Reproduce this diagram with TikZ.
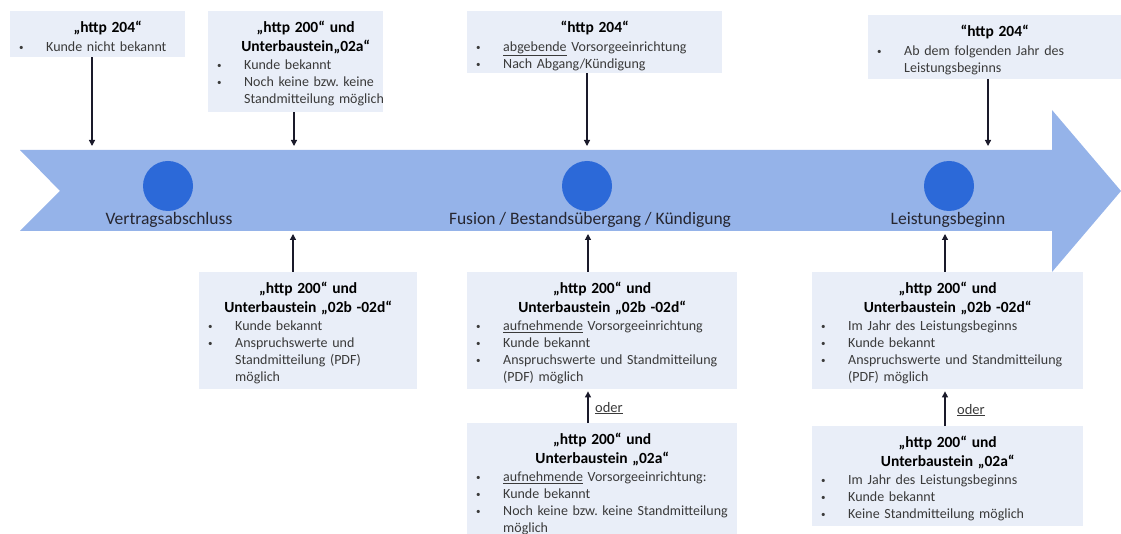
\documentclass[tikz,border=0pt]{standalone}
\usepackage{fontspec}
\setmainfont{Carlito}
\usetikzlibrary{arrows.meta,calc}
\definecolor{bandc}{HTML}{95B3E9}
\definecolor{dotc}{HTML}{2C69D8}
\definecolor{boxfill}{HTML}{E9EEF8}
\definecolor{bodytxt}{HTML}{3A3A3A}
\definecolor{arrowc}{HTML}{1A1A2A}
\definecolor{lbltxt}{HTML}{262630}
\newcommand{\ttl}[1]{{\centering\fontsize{15.5}{18.5}\selectfont\bfseries\color{black}#1\par}\vspace{1.5pt}}
\newcommand{\itm}[1]{{\hangindent=36pt\hangafter=1\noindent\makebox[36pt][l]{\hspace{9pt}\raisebox{1pt}{\fontsize{9}{9}\selectfont •}}#1\par}}
\tikzset{
  boxst/.style={fill=boxfill, draw=none, inner sep=0pt, anchor=north west},
  txt/.style={inner sep=0pt, text width=#1, align=left, anchor=north west,
    font=\fontsize{14}{17}\selectfont\frenchspacing, text=bodytxt},
  arr/.style={draw=arrowc, line width=1.2pt, -{Triangle[width=6pt,length=6pt]}},
  lbl/.style={inner sep=0pt, anchor=base, font=\fontsize{17.5}{20}\selectfont, text=lbltxt},
  odertxt/.style={inner sep=0pt, anchor=base west, font=\fontsize{14.5}{17}\selectfont, text=bodytxt},
  dotst/.style={circle, fill=dotc, inner sep=0pt, minimum size=50pt}
}
\begin{document}
\begin{tikzpicture}[x=1pt,y=-1pt]
\useasboundingbox (0,0) rectangle (1121,534);
% timeline band
\fill[bandc] (20,150) -- (1052,150) -- (1052,110) -- (1121,191) -- (1052,272) -- (1052,231) -- (20,231) -- (60,191) -- cycle;
\node[dotst] (d1) at (168,186) {};
\node[dotst] (d2) at (587,186) {};
\node[dotst] (d3) at (949,186) {};
\node[lbl] (l1) at (169,225) {Vertragsabschluss};
\node[lbl] (l2) at (590,225) {Fusion / Bestandsübergang / Kündigung};
\node[lbl] (l3) at (948,225) {Leistungsbeginn};
% arrow end points on band
\coordinate (a1) at (92,146);
\coordinate (a2) at (294,146);
\coordinate (a3) at (587,146);
\coordinate (a4) at (988,146);
\coordinate (c1) at (293,234);
\coordinate (c2) at (588,234);
\coordinate (c3) at (945,234);
% top boxes
\node[boxst, minimum width=175pt, minimum height=46pt] (b1) at (10,11) {};
\node[txt=195pt] (t1) at (10,21) {\ttl{\makebox[175pt][c]{„http 204“}}\itm{Kunde nicht bekannt}};
\node[boxst, minimum width=175pt, minimum height=101pt] (b2) at (208,11) {};
\node[txt=195pt] (t2) at (208,21) {\ttl{\makebox[175pt][c]{„http 200“ und}\\\makebox[175pt][c]{Unterbaustein„02a“}}\itm{Kunde bekannt}\itm{Noch keine bzw. keine\newline Standmitteilung möglich}};
\node[boxst, minimum width=255pt, minimum height=62pt] (b3) at (467,11) {};
\node[txt=255pt] (t3) at (467,21) {\ttl{“http 204“}\itm{\underline{abgebende} Vorsorgeeinrichtung}\itm{Nach Abgang/Kündigung}};
\node[boxst, minimum width=253pt, minimum height=64pt] (b4) at (868,15) {};
\node[txt=253pt] (t4) at (868,25) {\ttl{“http 204“}\itm{Ab dem folgenden Jahr des\newline Leistungsbeginns}};
% bottom boxes
\node[boxst, minimum width=218pt, minimum height=117pt] (b5) at (199,272) {};
\node[txt=218pt] (t5) at (199,282) {\ttl{„http 200“ und\\Unterbaustein „02b -02d“}\itm{Kunde bekannt}\itm{Anspruchswerte und\newline Standmitteilung (PDF)\newline möglich}};
\node[boxst, minimum width=270pt, minimum height=117pt] (b6) at (467,272) {};
\node[txt=270pt] (t6) at (467,282) {\ttl{„http 200“ und\\Unterbaustein „02b -02d“}\itm{\underline{aufnehmende} Vorsorgeeinrichtung}\itm{Kunde bekannt}\itm{Anspruchswerte und Standmitteilung\newline (PDF) möglich}};
\node[boxst, minimum width=270pt, minimum height=111pt] (b7) at (467,423) {};
\node[txt=270pt] (t7) at (467,433) {\ttl{„http 200“ und\\Unterbaustein „02a“}\itm{\underline{aufnehmende} Vorsorgeeinrichtung:}\itm{Kunde bekannt}\itm{Noch keine bzw. keine Standmitteilung\newline möglich}};
\node[boxst, minimum width=271pt, minimum height=117pt] (b8) at (812,272) {};
\node[txt=271pt] (t8) at (812,282) {\ttl{„http 200“ und\\Unterbaustein „02b -02d“}\itm{Im Jahr des Leistungsbeginns}\itm{Kunde bekannt}\itm{Anspruchswerte und Standmitteilung\newline (PDF) möglich}};
\node[boxst, minimum width=271pt, minimum height=100pt] (b9) at (812,426) {};
\node[txt=271pt] (t9) at (812,436) {\ttl{„http 200“ und\\Unterbaustein „02a“}\itm{Im Jahr des Leistungsbeginns}\itm{Kunde bekannt}\itm{Keine Standmitteilung möglich}};
% oder labels
\node[odertxt] (o1) at (595,412) {\underline{oder}};
\node[odertxt] (o2) at (957,414) {\underline{oder}};
% connectors
\draw[arr] (a1 |- b1.south) -- (a1);
\draw[arr] (a2 |- b2.south) -- (a2);
\draw[arr] (a3 |- b3.south) -- (a3);
\draw[arr] (a4 |- b4.south) -- (a4);
\draw[arr] (c1 |- b5.north) -- (c1);
\draw[arr] (c2 |- b6.north) -- (c2);
\draw[arr] (c3 |- b8.north) -- (c3);
\draw[arr] (c2 |- b7.north) -- ($(c2 |- b6.south)+(0,2)$);
\draw[arr] (c3 |- b9.north) -- ($(c3 |- b8.south)+(0,2)$);
\end{tikzpicture}
\end{document}
